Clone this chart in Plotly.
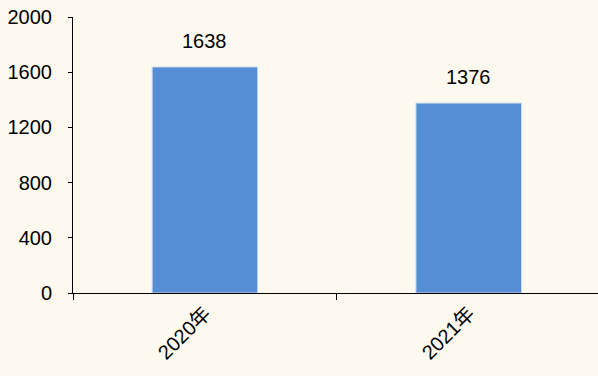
import plotly.graph_objects as go

years = ["2020年", "2021年"]
values = [1638, 1376]
y_ticks = [0, 400, 800, 1200, 1600, 2000]

bg = "#FEF9EE"
bar_color = "#558ED5"
font_family = "Liberation Sans, Arial, Noto Sans CJK SC, sans-serif"

fig = go.Figure()
fig.add_trace(go.Bar(
    x=years,
    y=values,
    width=0.4,
    marker=dict(color=bar_color, line=dict(color="#C9D8EE", width=1)),
    hoverinfo="skip",
))

for yr, v in zip(years, values):
    fig.add_annotation(
        x=yr, y=v, text=str(v), showarrow=False,
        yanchor="bottom", yshift=13,
        font=dict(family=font_family, size=20, color="#000000"),
    )

fig.update_layout(
    width=598, height=376,
    margin=dict(l=73, r=0, t=17, b=83),
    paper_bgcolor=bg, plot_bgcolor=bg,
    showlegend=False,
    font=dict(family=font_family, size=20, color="#000000"),
    xaxis=dict(
        type="category",
        range=[-0.5, 1.49],
        showline=True, linecolor="#000000", linewidth=1,
        ticks="outside", ticklen=6, tickcolor="#000000",
        tickson="boundaries",
        tickangle=-45,
        showgrid=False, zeroline=False,
    ),
    yaxis=dict(
        range=[0, 2000],
        tickvals=y_ticks,
        showline=True, linecolor="#000000", linewidth=1,
        ticks="outside", ticklen=4, tickcolor="#000000",
        ticklabelstandoff=12,
        showgrid=False, zeroline=False,
    ),
)

fig.write_html("out.html")
